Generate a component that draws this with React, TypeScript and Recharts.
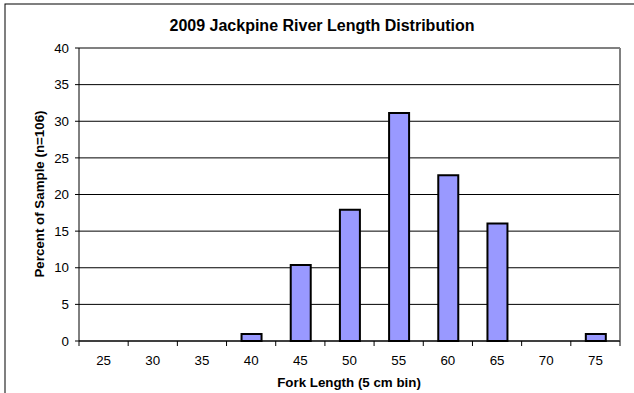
// Fork length histogram, Jackpine River 2009 (percent of n=106 fish per 5 cm bin)
import { BarChart, Bar, XAxis, YAxis, CartesianGrid, ReferenceLine } from 'recharts';

const bins = [25, 30, 35, 40, 45, 50, 55, 60, 65, 70, 75];
const percents = [0, 0, 0, 0.94, 10.38, 17.92, 31.13, 22.64, 16.04, 0, 0.94];
const yTicks = [0, 5, 10, 15, 20, 25, 30, 35, 40];

const data = bins.map((bin, i) => ({ bin, pct: percents[i] }));

// tick marks sit on the bin edges, labels on the bin centres
const half = (bins[1] - bins[0]) / 2;
const edges = [...bins.map((b) => b - half), bins[bins.length - 1] + half];

const font = 'Arial, "Liberation Sans", sans-serif';

export default function App() {
  return (
    <div style={{ position: 'absolute', left: 0, top: 0, width: 634, height: 393, background: '#fff' }}>
      <svg width={634} height={393} style={{ position: 'absolute', left: 0, top: 0 }}>
        <rect x={5} y={4} width={640} height={400} fill="#fff" stroke="#000" strokeWidth={1} />
        <text x={322} y={31} textAnchor="middle" fontFamily={font} fontSize={16} fontWeight="bold" fill="#000">
          2009 Jackpine River Length Distribution
        </text>
        <text x={349} y={387} textAnchor="middle" fontFamily={font} fontSize={13.33} fontWeight="bold" fill="#000">
          Fork Length (5 cm bin)
        </text>
        <text
          x={44}
          y={194}
          textAnchor="middle"
          fontFamily={font}
          fontSize={13.33}
          fontWeight="bold"
          fill="#000"
          transform="rotate(-90 44 194)"
        >
          Percent of Sample (n=106)
        </text>
      </svg>
      <div style={{ position: 'absolute', left: 0, top: 0 }}>
        <BarChart
          width={634}
          height={393}
          data={data}
          margin={{ top: 48, right: 14, bottom: 22, left: 20 }}
        >
          <CartesianGrid vertical={false} stroke="#000" strokeWidth={1} />
          <ReferenceLine y={40} stroke="#808080" strokeWidth={2} />
          <ReferenceLine xAxisId="edges" x={edges[edges.length - 1]} stroke="#808080" strokeWidth={2} />
          <XAxis
            xAxisId="edges"
            dataKey="bin"
            type="number"
            domain={[edges[0], edges[edges.length - 1]]}
            ticks={edges}
            interval={0}
            axisLine={{ stroke: '#000', strokeWidth: 1 }}
            tickLine={{ stroke: '#000', strokeWidth: 1 }}
            tickSize={5}
            tick={{ fill: 'none', fontSize: 1 }}
            height={6}
          />
          <XAxis
            xAxisId="labels"
            dataKey="bin"
            type="number"
            domain={[edges[0], edges[edges.length - 1]]}
            ticks={bins}
            interval={0}
            axisLine={false}
            tickLine={false}
            tickSize={0}
            tickMargin={9}
            height={24}
            tick={{ fontSize: 13.33, fill: '#000', fontFamily: font }}
          />
          <YAxis
            domain={[0, 40]}
            ticks={yTicks}
            interval={0}
            width={59}
            axisLine={{ stroke: '#000', strokeWidth: 1 }}
            tickLine={{ stroke: '#000' }}
            tickSize={4}
            tickMargin={6}
            tick={{ fontSize: 13.33, fill: '#000', fontFamily: font }}
          />
          <Bar
            xAxisId="labels"
            dataKey="pct"
            barSize={20}
            fill="#9999FF"
            stroke="#000"
            strokeWidth={2}
            isAnimationActive={false}
          />
        </BarChart>
      </div>
    </div>
  );
}
